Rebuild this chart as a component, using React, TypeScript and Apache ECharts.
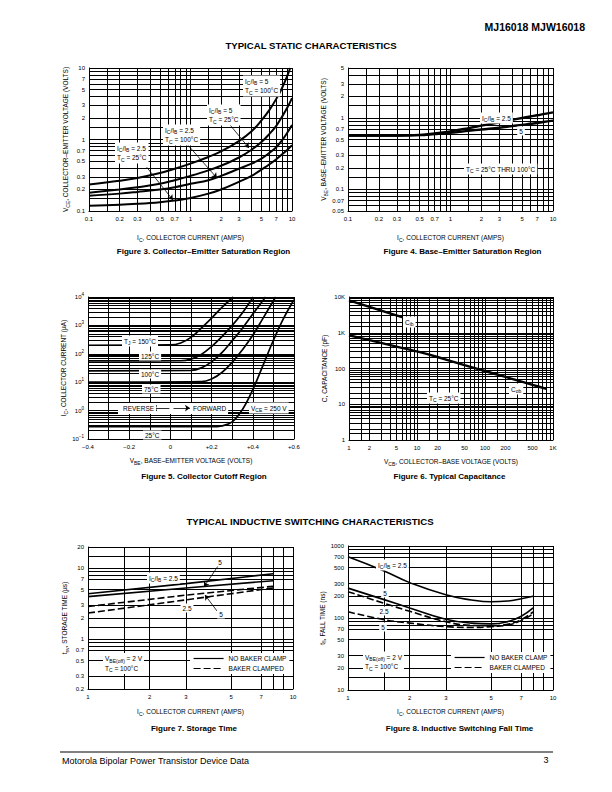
import React, { useEffect, useRef } from 'react';
import * as echarts from 'echarts';

const FONT = '"Liberation Sans", Arial, Helvetica, sans-serif';

// ---------- Figure 3: Collector–Emitter Saturation Region (IC in A, VCE in V) ----------
const fig3Ic = [0.1, 0.2, 0.3, 0.5, 0.7, 1, 1.5, 2, 3, 4, 5, 6, 7, 8, 9, 10];
const fig3IcHot5 = [0.1, 0.2, 0.3, 0.5, 0.7, 1, 1.5, 2, 3, 4, 5, 6, 7, 8, 9, 9.6];
const fig3VceB5T100 = [0.235, 0.265, 0.29, 0.34, 0.39, 0.46, 0.57, 0.68, 0.95, 1.3, 1.85, 2.6, 3.7, 5.3, 7.8, 10];
const fig3VceB5T25 = [0.18, 0.2, 0.215, 0.24, 0.27, 0.31, 0.37, 0.43, 0.56, 0.72, 0.92, 1.2, 1.55, 2.1, 2.8, 3.8];
const fig3VceB25T100 = [0.163, 0.175, 0.185, 0.2, 0.215, 0.24, 0.27, 0.31, 0.39, 0.46, 0.54, 0.65, 0.78, 0.98, 1.25, 1.6];
const fig3VceB25T25 = [0.118, 0.122, 0.126, 0.133, 0.14, 0.152, 0.175, 0.2, 0.256, 0.31, 0.38, 0.45, 0.53, 0.62, 0.72, 0.83];
const fig3Ticks = [0.1, 0.2, 0.3, 0.5, 0.7, 1, 2, 3, 5, 7, 10];

// ---------- Figure 4: Base–Emitter Saturation Region ----------
const fig4Ic = [0.1, 0.2, 0.3, 0.5, 0.7, 1, 1.5, 2, 3, 4, 5, 6, 7, 8, 10];
const fig4VbeB25 = [0.57, 0.57, 0.57, 0.58, 0.61, 0.65, 0.72, 0.78, 0.87, 0.94, 1.0, 1.05, 1.09, 1.13, 1.2];
const fig4VbeB5 = [0.57, 0.57, 0.57, 0.575, 0.595, 0.62, 0.66, 0.69, 0.73, 0.77, 0.8, 0.83, 0.85, 0.88, 0.92];
const fig4XTicks = [0.1, 0.2, 0.3, 0.5, 0.7, 1, 2, 3, 5, 7, 10];
const fig4YTicks = [0.05, 0.07, 0.1, 0.2, 0.3, 0.5, 0.7, 1, 2, 3, 5];

// ---------- Figure 5: Collector Cutoff Region (VBE in V, IC in µA) ----------
const fig5VbeT150 = [-0.4, 0, 0.05, 0.1, 0.15, 0.2, 0.25, 0.305];
const fig5IcT150 = [200, 205, 240, 380, 800, 1800, 4300, 10000];
const fig5VbeT125 = [-0.4, 0.05, 0.1, 0.15, 0.2, 0.25, 0.3, 0.35, 0.402];
const fig5IcT125 = [56, 57, 65, 95, 180, 400, 1000, 2800, 10000];
const fig5VbeT100 = [-0.4, 0.1, 0.15, 0.2, 0.25, 0.3, 0.35, 0.4, 0.462];
const fig5IcT100 = [25, 26, 32, 52, 110, 290, 800, 2500, 10000];
const fig5VbeT75 = [-0.4, 0.15, 0.2, 0.25, 0.3, 0.35, 0.4, 0.45, 0.511];
const fig5IcT75 = [10, 10.5, 13, 22, 50, 140, 450, 1800, 10000];
const fig5VbeT25 = [-0.4, 0.2, 0.25, 0.3, 0.35, 0.4, 0.45, 0.5, 0.55, 0.6];
const fig5IcT25 = [0.27, 0.27, 0.29, 0.4, 1.1, 5.5, 40, 300, 1800, 8000];
const fig5XTicks = [-0.4, -0.2, 0, 0.2, 0.4, 0.6];
const fig5YTicks = [0.1, 1, 10, 100, 1000, 10000];

// ---------- Figure 6: Typical Capacitance (VCB in V, C in pF) ----------
const fig6VcbCib = [1, 2, 4, 6.2];
const fig6Cib = [8000, 5300, 3500, 2700];
const fig6VcbCob = [1, 2, 5, 10, 20, 50, 100, 200, 500, 800];
const fig6Cob = [850, 620, 410, 300, 210, 124, 85, 58, 35, 27];
const fig6XTicks = [1, 2, 5, 10, 20, 50, 100, 200, 500, 1000];
const fig6YTicks = [1, 10, 100, 1000, 10000];

// ---------- Figure 7: Storage Time (IC in A, tsv in µs) ----------
const fig7Ic = [1, 3, 8];
const fig7NoClampB25 = [4.4, 6.1, 8.4];
const fig7NoClampB5 = [4.0, 5.3, 6.7];
const fig7ClampB5 = [2.9, 4.2, 5.6];
const fig7ClampB25 = [2.35, 3.6, 5.3];
const fig7XTicks = [1, 2, 3, 5, 7, 10];
const fig7YTicks = [0.2, 0.3, 0.5, 0.7, 1, 2, 3, 5, 7, 10, 20];

// ---------- Figure 8: Inductive Switching Fall Time (IC in A, tfi in ns) ----------
const fig8Ic = [1, 1.5, 2, 3, 4, 5, 6, 7, 8];
const fig8NoClampB25 = [710, 450, 310, 210, 178, 168, 172, 185, 200];
const fig8NoClampB5 = [260, 180, 138, 96, 85, 83, 89, 106, 138];
const fig8ClampB25 = [232, 160, 124, 89, 79, 78, 82, 95, 122];
const fig8ClampB5 = [122, 95, 85, 76, 74, 76, 80, 92, 115];
const fig8XTicks = [1, 2, 3, 5, 7, 10];
const fig8YTicks = [10, 20, 30, 50, 70, 100, 200, 300, 500, 700, 1000];

const GRID_FULL = [1, 1.5, 2, 3, 4, 5, 6, 7, 8, 9];
const GRID_DENSE = [1, 2, 3, 4, 5, 6, 7, 8, 9];
const GRID_SPARSE = [1, 1.5, 2, 3, 5, 7, 8, 9];

const NO_CLAMP = 'NO BAKER CLAMP';
const CLAMPED = 'BAKER CLAMPED';

const L = (v: number) => Math.log10(v);

function gridVals(minV: number, maxV: number, mults: number[]) {
  const lo = L(minV);
  const hi = L(maxV);
  const out: number[] = [];
  for (let d = Math.floor(lo) - 1; d <= Math.ceil(hi); d++) {
    for (const m of mults) {
      const lv = L(m * Math.pow(10, d));
      if (lv >= lo - 1e-7 && lv <= hi + 1e-7) {
        const c = Math.min(Math.max(lv, lo), hi);
        if (!out.some((o) => Math.abs(o - c) < 1e-9)) out.push(c);
      }
    }
  }
  return out;
}

const num = (v: number) => String(parseFloat(v.toPrecision(3)));
const numK = (v: number) => {
  const r = parseFloat(v.toPrecision(3));
  return r >= 1000 ? r / 1000 + 'K' : String(r);
};

const NAME_STYLE = {
  fontSize: 6.5,
  fontFamily: FONT,
  color: '#000',
  rich: { s: { fontSize: 5, fontFamily: FONT, color: '#000', padding: [4, 0, 0, 0] } },
};

const LINE_STYLE = { color: '#000', width: 1 };
const SPLIT_STYLE = { color: '#000', width: 1 };

function logAxis(
  gi: number, minV: number, maxV: number, mults: number[], ticks: number[],
  fmt: (v: number) => string, name: string, nameGap: number, isY: boolean, extra: any = {}
) {
  return {
    type: 'value',
    gridIndex: gi,
    min: L(minV),
    max: L(maxV),
    silent: true,
    axisLine: { show: true, onZero: false, lineStyle: LINE_STYLE },
    axisTick: { show: false, customValues: gridVals(minV, maxV, mults) },
    splitLine: { show: true, lineStyle: SPLIT_STYLE },
    axisLabel: {
      show: true,
      customValues: ticks.map(L),
      formatter: (v: number) => fmt(Math.pow(10, v)),
      fontSize: 6,
      fontFamily: FONT,
      color: '#000',
      margin: isY ? 4 : 5,
      hideOverlap: false,
      ...extra,
    },
    name,
    nameLocation: 'middle',
    nameGap,
    nameRotate: isY ? 90 : 0,
    nameTextStyle: NAME_STYLE,
  };
}

function curve(gi: number, xs: number[], ys: number[], width: number, opts: any = {}) {
  const logX = opts.linX ? (v: number) => v : L;
  return {
    type: 'line',
    name: opts.name,
    xAxisIndex: gi,
    yAxisIndex: gi,
    data: xs.map((x, i) => [logX(x), L(ys[i])]),
    symbol: 'none',
    smooth: opts.smooth ?? 0.4,
    silent: true,
    z: 3,
    itemStyle: { color: '#000' },
    lineStyle: { color: '#000', width, type: opts.dashed ? [7, 3] : 'solid' },
    markLine: opts.arrows
      ? {
          silent: true,
          symbol: ['none', 'arrow'],
          symbolSize: 5,
          label: { show: false },
          lineStyle: { color: '#000', width: 0.8, type: 'solid' },
          emphasis: { disabled: true },
          data: opts.arrows.map((a: number[]) => [
            { coord: [logX(a[0]), L(a[1])] },
            { coord: [logX(a[2]), L(a[3])] },
          ]),
        }
      : undefined,
  };
}

const ZR_RICH = {
  s: { fontSize: 5, fontFamily: FONT, fill: '#000', padding: [4, 0, 0, 0] },
};

function label(x: number, y: number, text: string, o: any = {}) {
  return {
    type: 'text',
    x,
    y,
    z: o.z ?? 20,
    silent: true,
    style: {
      text,
      fill: '#000',
      fontSize: o.size ?? 6.5,
      fontFamily: FONT,
      fontWeight: o.bold ? 'bold' : 'normal',
      align: o.align ?? 'left',
      verticalAlign: 'middle',
      lineHeight: o.lh,
      backgroundColor: o.bg ? '#fff' : undefined,
      padding: o.bg ? [1, 2, 1, 2] : undefined,
      rich: ZR_RICH,
    },
  };
}

const ICIB = 'I{s|C}/I{s|B}';

export default function App() {
  const ref = useRef<HTMLDivElement>(null);

  useEffect(() => {
    if (!ref.current) return;
    const chart = echarts.init(ref.current, undefined, { renderer: 'svg' });

    const grids = [
      { left: 89, top: 68, width: 203, height: 143 },
      { left: 348, top: 68, width: 205, height: 143 },
      { left: 88, top: 297, width: 206, height: 142 },
      { left: 349, top: 297, width: 204, height: 143 },
      { left: 88, top: 547, width: 205, height: 142 },
      { left: 348, top: 546, width: 205, height: 144 },
    ].map((g) => ({ ...g, outerBoundsMode: 'none', containLabel: false }));

    const xAxis = [
      logAxis(0, 0.1, 10, GRID_FULL, fig3Ticks, num, 'I{s|C}, COLLECTOR CURRENT (AMPS)', 22, false),
      logAxis(1, 0.1, 10, GRID_FULL, fig4XTicks, num, 'I{s|C}, COLLECTOR CURRENT (AMPS)', 22, false),
      {
        type: 'value',
        gridIndex: 2,
        min: -0.4,
        max: 0.6,
        interval: 0.1,
        silent: true,
        axisLine: { show: true, onZero: false, lineStyle: LINE_STYLE },
        axisTick: { show: false },
        splitLine: { show: true, lineStyle: SPLIT_STYLE },
        axisLabel: {
          customValues: fig5XTicks,
          formatter: (v: number) =>
            Math.abs(v) < 1e-9 ? '0' : (v < 0 ? '−' : '+') + Math.abs(v).toFixed(1),
          fontSize: 6,
          fontFamily: FONT,
          color: '#000',
          margin: 5,
        },
        name: 'V{s|BE}, BASE–EMITTER VOLTAGE (VOLTS)',
        nameLocation: 'middle',
        nameGap: 17,
        nameTextStyle: NAME_STYLE,
      },
      logAxis(3, 1, 1000, GRID_FULL, fig6XTicks, numK, 'V{s|CB}, COLLECTOR–BASE VOLTAGE (VOLTS)', 17, false),
      logAxis(4, 1, 10, GRID_SPARSE, fig7XTicks, num, 'I{s|C}, COLLECTOR CURRENT (AMPS)', 18, false),
      logAxis(5, 1, 10, GRID_SPARSE, fig8XTicks, num, 'I{s|C}, COLLECTOR CURRENT (AMPS)', 17, false),
    ];

    const supFmt = (v: number) => {
      const e = Math.round(L(v));
      return '10{p|' + (e < 0 ? '−' + -e : String(e)) + '}';
    };

    const yAxis = [
      logAxis(0, 0.1, 10, GRID_FULL, fig3Ticks, num, 'V{s|CE}, COLLECTOR–EMITTER VOLTAGE (VOLTS)', 19, true),
      logAxis(1, 0.05, 5, GRID_FULL, fig4YTicks, num, 'V{s|BE}, BASE–EMITTER VOLTAGE (VOLTS)', 19, true),
      logAxis(2, 0.1, 10000, GRID_DENSE, fig5YTicks, supFmt, 'I{s|C}, COLLECTOR CURRENT (µA)', 20, true, {
        rich: { p: { fontSize: 4.5, fontFamily: FONT, color: '#000', padding: [0, 0, 5, 0] } },
      }),
      logAxis(3, 1, 10000, GRID_FULL, fig6YTicks, numK, 'C, CAPACITANCE (pF)', 21, true),
      logAxis(4, 0.2, 20, GRID_SPARSE, fig7YTicks, num, 't{s|sv}, STORAGE TIME (µs)', 19, true),
      logAxis(5, 10, 1000, GRID_SPARSE, fig8YTicks, num, 't{s|fi}, FALL TIME (ns)', 20, true),
    ];

    const series = [
      // Figure 3
      curve(0, fig3IcHot5, fig3VceB5T100, 2, {
        arrows: [
          [2.45, 1.6, 3.77, 0.76],
          [0.94, 0.84, 1.82, 0.29],
          [0.37, 0.41, 0.67, 0.143],
        ],
      }),
      curve(0, fig3Ic, fig3VceB5T25, 2),
      curve(0, fig3Ic, fig3VceB25T100, 2),
      curve(0, fig3Ic, fig3VceB25T25, 2),
      // Figure 4
      curve(1, fig4Ic, fig4VbeB25, 2.4),
      curve(1, fig4Ic, fig4VbeB5, 2.4),
      // Figure 5
      curve(2, fig5VbeT150, fig5IcT150, 1.7, {
        linX: true,
        arrows: [
          [-0.005, 1.23, -0.088, 1.23],
          [0.015, 1.23, 0.095, 1.23],
        ],
      }),
      curve(2, fig5VbeT125, fig5IcT125, 1.7, { linX: true }),
      curve(2, fig5VbeT100, fig5IcT100, 1.7, { linX: true }),
      curve(2, fig5VbeT75, fig5IcT75, 1.7, { linX: true }),
      curve(2, fig5VbeT25, fig5IcT25, 1.7, { linX: true }),
      // Figure 6
      curve(3, fig6VcbCib, fig6Cib, 2.4, { smooth: 0 }),
      curve(3, fig6VcbCob, fig6Cob, 2.4, { smooth: 0.2 }),
      // Figure 7
      curve(4, fig7Ic, fig7NoClampB25, 1.6, {
        name: NO_CLAMP,
        smooth: 0,
        arrows: [
          [4.31, 10.8, 3.68, 5.5],
          [4.26, 2.51, 3.72, 4.22],
        ],
      }),
      curve(4, fig7Ic, fig7NoClampB5, 1.6, { name: NO_CLAMP, smooth: 0 }),
      curve(4, fig7Ic, fig7ClampB5, 1.6, { name: CLAMPED, dashed: true, smooth: 0 }),
      curve(4, fig7Ic, fig7ClampB25, 1.6, { name: CLAMPED, dashed: true, smooth: 0 }),
      // Figure 8
      curve(5, fig8Ic, fig8NoClampB25, 1.6, { name: NO_CLAMP, smooth: 0.5 }),
      curve(5, fig8Ic, fig8NoClampB5, 1.6, { name: NO_CLAMP, smooth: 0.5 }),
      curve(5, fig8Ic, fig8ClampB25, 1.6, { name: CLAMPED, dashed: true, smooth: 0.5 }),
      curve(5, fig8Ic, fig8ClampB5, 1.6, { name: CLAMPED, dashed: true, smooth: 0.5 }),
    ];

    const legendBase = {
      orient: 'vertical',
      selectedMode: false,
      data: [NO_CLAMP, CLAMPED],
      itemWidth: 30,
      itemHeight: 6,
      itemGap: 3,
      backgroundColor: '#fff',
      padding: [2, 3, 2, 3],
      itemStyle: { opacity: 0 },
      lineStyle: { color: '#000', width: 1.2 },
      textStyle: { fontSize: 6.5, fontFamily: FONT, color: '#000' },
      z: 10,
    };

    const graphic = [
      label(585, 27, 'MJ16018 MJW16018', { bold: true, size: 10.5, align: 'right' }),
      label(311, 45, 'TYPICAL STATIC CHARACTERISTICS', { bold: true, size: 9.6, align: 'center' }),
      label(310, 521, 'TYPICAL INDUCTIVE SWITCHING CHARACTERISTICS', { bold: true, size: 9.6, align: 'center' }),
      label(203.5, 251, 'Figure 3. Collector–Emitter Saturation Region', { bold: true, size: 8, align: 'center' }),
      label(462.5, 251, 'Figure 4. Base–Emitter Saturation Region', { bold: true, size: 8, align: 'center' }),
      label(204, 476, 'Figure 5. Collector Cutoff Region', { bold: true, size: 8, align: 'center' }),
      label(449.5, 476, 'Figure 6. Typical Capacitance', { bold: true, size: 8, align: 'center' }),
      label(194, 728, 'Figure 7. Storage Time', { bold: true, size: 8, align: 'center' }),
      label(459.5, 728, 'Figure 8. Inductive Switching Fall Time', { bold: true, size: 8, align: 'center' }),
      {
        type: 'line',
        silent: true,
        shape: { x1: 60, y1: 752, x2: 553, y2: 752 },
        style: { stroke: '#000', lineWidth: 1 },
      },
      label(62, 761, 'Motorola Bipolar Power Transistor Device Data', { size: 9 }),
      label(546, 760, '3', { size: 9, align: 'center' }),

      // Figure 3 annotations
      label(243, 86, ICIB + ' = 5\nT{s|C} = 100°C', { bg: true, lh: 9.5 }),
      label(207, 115, ICIB + ' = 5\nT{s|C} = 25°C', { bg: true, lh: 9.5 }),
      label(163, 135, ICIB + ' = 2.5\nT{s|C} = 100°C', { bg: true, lh: 9.5 }),
      label(115, 153, ICIB + ' = 2.5\nT{s|C} = 25°C', { bg: true, lh: 9.5 }),

      // Figure 4 annotations
      label(480, 118, ICIB + ' = 2.5', { bg: true }),
      label(521, 131, '5', { bg: true, align: 'center' }),
      label(464, 169, 'T{s|C} = 25°C THRU 100°C', { bg: true }),

      // Figure 5 annotations
      {
        type: 'rect',
        z: 1,
        silent: true,
        shape: { x: 118, y: 403, width: 110, height: 11 },
        style: { fill: '#fff' },
      },
      label(122, 341, 'T{s|J} = 150°C', { bg: true }),
      label(139, 356, '125°C', { bg: true }),
      label(139, 374, '100°C', { bg: true }),
      label(142, 389, '75°C', { bg: true }),
      label(121, 408, 'REVERSE', { bg: true }),
      label(191, 408, 'FORWARD', { bg: true }),
      label(249, 408, 'V{s|CE} = 250 V', { bg: true }),
      label(143, 435, '25°C', { bg: true }),

      // Figure 6 annotations
      label(403, 322, 'C{s|ib}', { bg: true }),
      label(509, 389, 'C{s|ob}', { bg: true }),
      label(427, 398, 'T{s|C} = 25°C', { bg: true }),

      // Figure 7 annotations
      label(147, 578, ICIB + ' = 2.5', { bg: true }),
      label(220, 562, '5', { bg: true, align: 'center' }),
      label(187, 608, '2.5', { bg: true, align: 'center' }),
      label(221, 614, '5', { bg: true, align: 'center' }),
      label(103, 663.5, 'V{s|BE(off)} = 2 V\nT{s|C} = 100°C', { bg: true, lh: 9.5 }),

      // Figure 8 annotations
      label(376, 565, ICIB + ' = 2.5', { bg: true }),
      label(385, 593, '5', { bg: true, align: 'center' }),
      label(384, 611, '2.5', { bg: true, align: 'center' }),
      label(383, 627, '5', { bg: true, align: 'center' }),
      label(363, 662, 'V{s|BE(off)} = 2 V\nT{s|C} = 100°C', { bg: true, lh: 9.5 }),
    ];

    chart.setOption({
      animation: false,
      backgroundColor: '#fff',
      textStyle: { fontFamily: FONT },
      grid: grids,
      xAxis,
      yAxis,
      series,
      legend: [
        { ...legendBase, left: 190, top: 653 },
        { ...legendBase, left: 451, top: 652 },
      ],
      graphic,
    });

    return () => chart.dispose();
  }, []);

  return (
    <div
      ref={ref}
      style={{ position: 'absolute', left: 0, top: 0, width: 612, height: 792, background: '#fff' }}
    />
  );
}
